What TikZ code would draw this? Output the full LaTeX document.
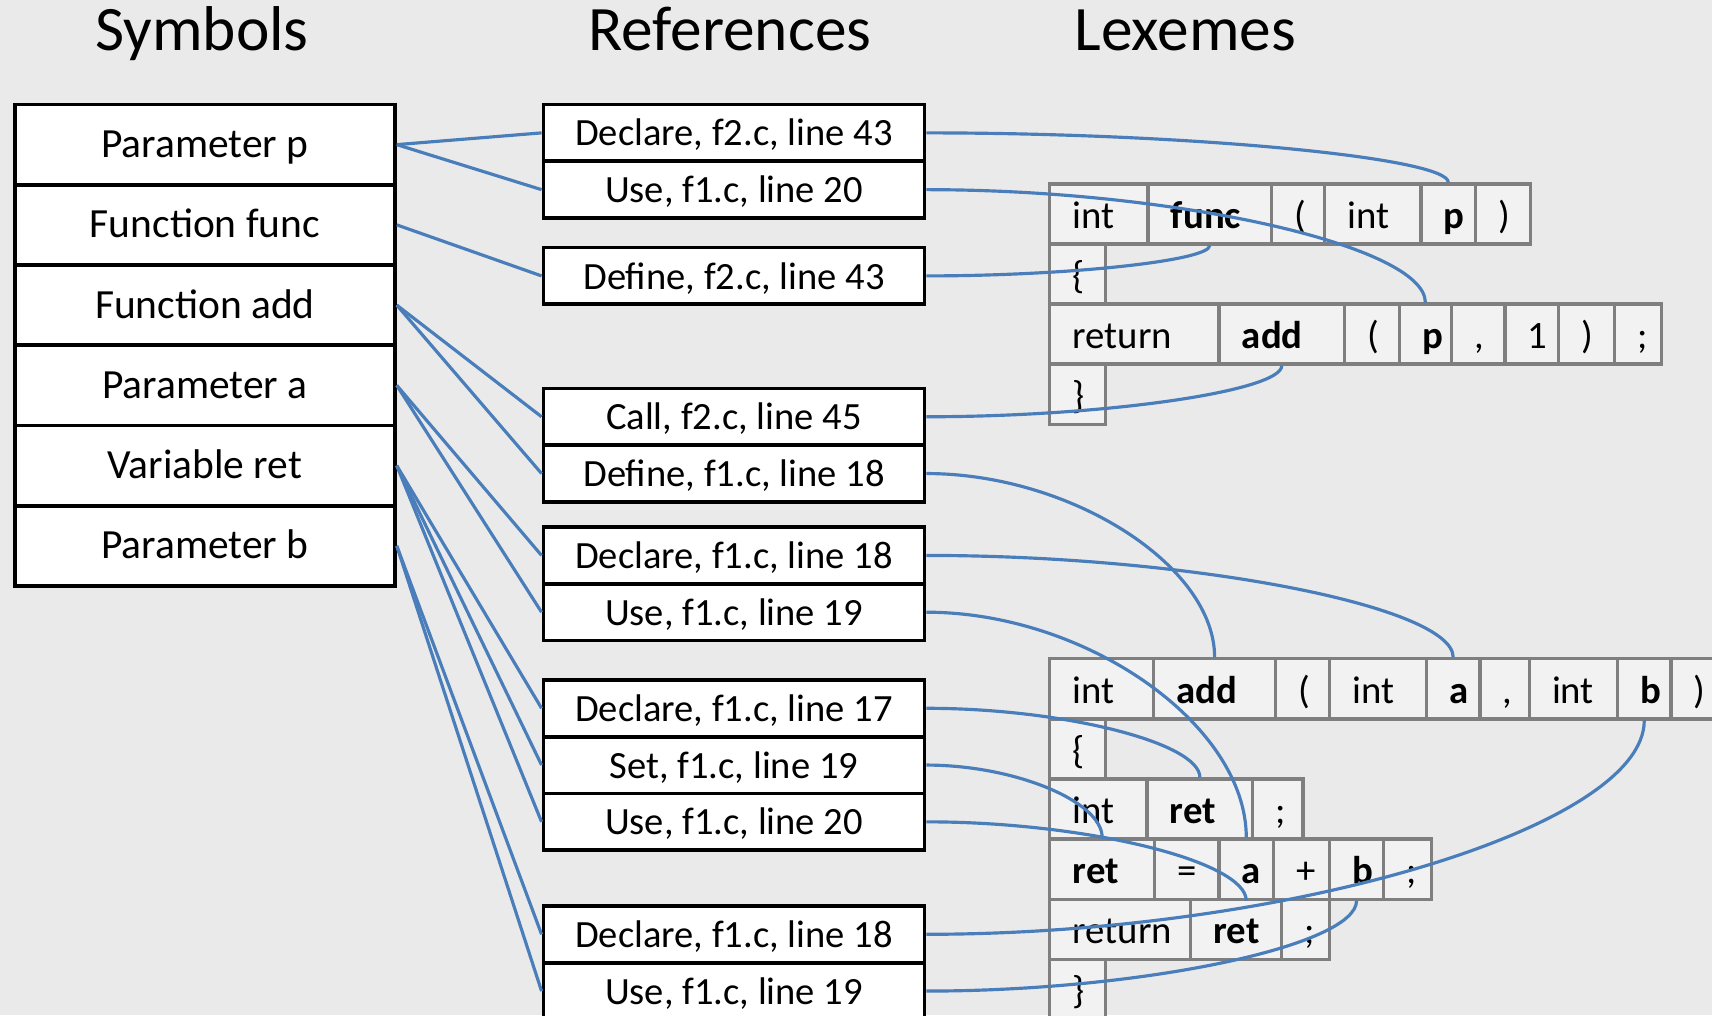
\documentclass[tikz,border=0pt]{standalone}
\usepackage{fontspec}
\setmainfont{Carlito}
\usetikzlibrary{calc}
\definecolor{bgc}{HTML}{EAEAEA}
\definecolor{lexfill}{HTML}{F2F2F2}
\definecolor{lexline}{HTML}{7F7F7F}
\definecolor{connc}{HTML}{4A7EBB}
\tikzset{
  heading/.style={font=\fontsize{58}{62}\selectfont, anchor=base, inner sep=0pt},
  symbox/.style={draw=black, fill=white, line width=3.4pt, minimum width=348pt, minimum height=73.5pt, inner sep=0pt, anchor=north west, font=\fontsize{38}{44}\selectfont, text height=30pt, text depth=6pt},
  refbox/.style={draw=black, fill=white, line width=3.4pt, minimum width=349pt, minimum height=52pt, inner sep=0pt, anchor=north west, font=\fontsize{35.3}{42}\selectfont, text height=29pt, text depth=5pt},
  lexbox/.style={draw=lexline, fill=lexfill, line width=2.9pt, minimum height=55pt, inner xsep=21pt, inner ysep=0pt, anchor=north west, font=\fontsize{35.5}{42}\selectfont, text height=31pt, text depth=4pt},
  conline/.style={draw=connc, line width=2.9pt},
  curvelink/.style={conline, to path={let \p1=(\tikztostart), \p2=(\tikztotarget) in .. controls ({(\x1+\x2)/2},\y1) and (\x2,{(\y1+\y2)/2}) .. (\tikztotarget)}},
}
\newcommand\lexcell[5]{%
  \pgfmathsetlengthmacro\lexinner{#4-42}%
  \node[lexbox, minimum width=#4pt] (#1) at (#2,#3) {\makebox[\lexinner][l]{#5}};}
\begin{document}
\begin{tikzpicture}[x=1pt,y=-1pt]
\useasboundingbox (0,0) rectangle (1568,930);
\clip (0,0) rectangle (1568,930);
\fill[bgc] (0,0) rectangle (1568,930);
% headings
\node[heading] (hs) at (185,46) {Symbols};
\node[heading] (hr) at (668.5,46) {References};
\node[heading] (hl) at (1085.5,46) {Lexemes};
% symbols
\node[symbox] (s1) at (12,94) {Parameter p};
\node[symbox] (s2) at (12,167.5) {Function func};
\node[symbox] (s3) at (12,241) {Function add};
\node[symbox] (s4) at (12,314.5) {Parameter a};
\node[symbox] (s5) at (12,388) {Variable ret};
\node[symbox] (s6) at (12,461.5) {Parameter b};
% references
\node[refbox] (r1) at (496,94) {Declare, f2.c, line 43};
\node[refbox] (r2) at (496,146) {Use, f1.c, line 20};
\node[refbox] (r3) at (496,225) {Define, f2.c, line 43};
\node[refbox] (r4) at (496,354) {Call, f2.c, line 45};
\node[refbox] (r5) at (496,406) {Define, f1.c, line 18};
\node[refbox] (r6) at (496,481) {Declare, f1.c, line 18};
\node[refbox] (r7) at (496,533) {Use, f1.c, line 19};
\node[refbox] (r8) at (496,621) {Declare, f1.c, line 17};
\node[refbox] (r9) at (496,673) {Set, f1.c, line 19};
\node[refbox] (r10) at (496,725) {Use, f1.c, line 20};
\node[refbox] (r11) at (496,828) {Declare, f1.c, line 18};
\node[refbox] (r12) at (496,880) {Use, f1.c, line 19};
% lexemes, top group
\lexcell{ta1}{960}{167}{90}{int}
\lexcell{tfunc}{1050}{167}{113}{\textbf{func}}
\lexcell{ta3}{1163}{167}{49}{(}
\lexcell{ta4}{1212}{167}{88}{int}
\lexcell{tp1}{1300}{167}{50}{\textbf{p}}
\lexcell{ta6}{1350}{167}{50}{)}
\lexcell{tb1}{960}{222}{51}{\{}
\lexcell{tc1}{960}{277}{155}{return}
\lexcell{tadd}{1115}{277}{115}{\textbf{add}}
\lexcell{tc3}{1230}{277}{50}{(}
\lexcell{tp3}{1280}{277}{48}{\textbf{p}}
\lexcell{tc5}{1328}{277}{49}{,}
\lexcell{tc6}{1377}{277}{49}{1}
\lexcell{tc7}{1426}{277}{51}{)}
\lexcell{tc8}{1477}{277}{43}{;}
\lexcell{td1}{960}{332}{51}{\}}
% lexemes, bottom group
\lexcell{ba0}{960}{602}{95}{int}
\lexcell{badd}{1055}{602}{112}{\textbf{add}}
\lexcell{bpar}{1167}{602}{49}{(}
\lexcell{bint1}{1216}{602}{89}{int}
\lexcell{ba1}{1305}{602}{49}{\textbf{a}}
\lexcell{bcom}{1354}{602}{45}{,}
\lexcell{bint2}{1399}{602}{81}{int}
\lexcell{bb1}{1480}{602}{49}{\textbf{b}}
\lexcell{bcl}{1529}{602}{51}{)}
\lexcell{bbr}{960}{657}{51}{\{}
\lexcell{bint3}{960}{712}{89}{int}
\lexcell{bret3}{1049}{712}{97}{\textbf{ret}}
\lexcell{bsc3}{1146}{712}{46}{;}
\lexcell{bret4}{960}{767}{96}{\textbf{ret}}
\lexcell{beq}{1056}{767}{59}{=}
\lexcell{ba4}{1115}{767}{50}{\textbf{a}}
\lexcell{bplus}{1165}{767}{51}{+}
\lexcell{bb4}{1216}{767}{50}{\textbf{b}}
\lexcell{bsc4}{1266}{767}{44}{;}
\lexcell{bretn}{960}{822}{129}{return}
\lexcell{bret5}{1089}{822}{83}{\textbf{ret}}
\lexcell{bsc5}{1172}{822}{44}{;}
\lexcell{bcb}{960}{877}{51}{\}}
% symbol -> reference links
\draw[conline] (s1.east) -- (r1.west);
\draw[conline] (s1.east) -- (r2.west);
\draw[conline] (s2.east) -- (r3.west);
\draw[conline] (s3.east) -- (r4.west);
\draw[conline] (s3.east) -- (r5.west);
\draw[conline] (s4.east) -- (r6.west);
\draw[conline] (s4.east) -- (r7.west);
\draw[conline] (s5.east) -- (r8.west);
\draw[conline] (s5.east) -- (r9.west);
\draw[conline] (s5.east) -- (r10.west);
\draw[conline] (s6.east) -- (r11.west);
\draw[conline] (s6.east) -- (r12.west);
% reference -> lexeme links
\draw[curvelink] (r1.east) to (tp1.north);
\draw[curvelink] (r2.east) to (tp3.north);
\draw[curvelink] (r3.east) to (tfunc.south);
\draw[curvelink] (r4.east) to (tadd.south);
\draw[curvelink] (r5.east) to (badd.north);
\draw[curvelink] (r6.east) to (ba1.north);
\draw[curvelink] (r7.east) to (ba4.north);
\draw[curvelink] (r8.east) to (bret3.north);
\draw[curvelink] (r9.east) to (bret4.north);
\draw[curvelink] (r10.east) to (ba4.south);
\draw[curvelink] (r11.east) to (bb1.south);
\draw[curvelink] (r12.east) to (bb4.south);
\end{tikzpicture}
\end{document}
